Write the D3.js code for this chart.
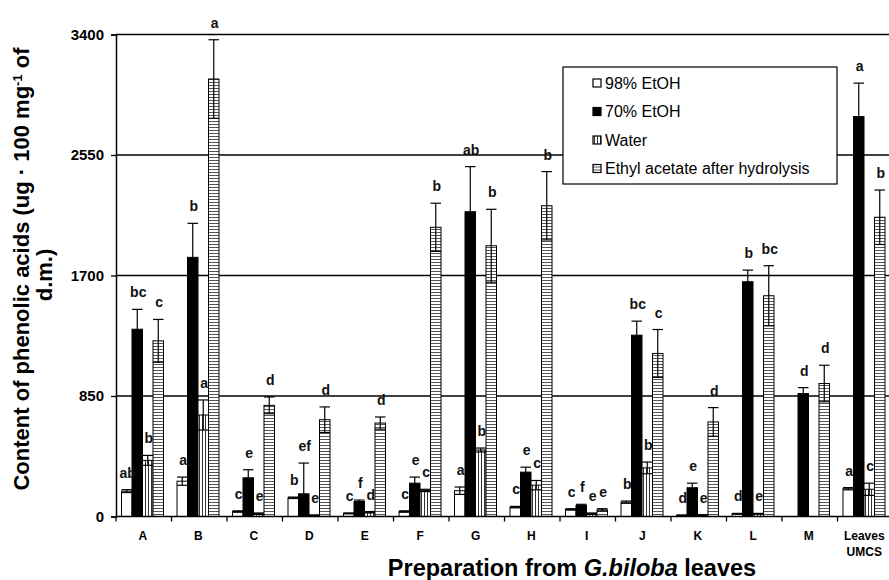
<!DOCTYPE html>
<html>
<head>
<meta charset="utf-8">
<script src="https://d3js.org/d3.v7.min.js"></script>
<style>
  body { margin: 0; background: #fff; }
  svg { display: block; font-family: "Liberation Sans", Arial, sans-serif; }
</style>
</head>
<body>
<svg id="chart"></svg>
<script>

/*Chart data*/
var categories = ["A", "B", "C", "D", "E", "F", "G", "H", "I", "J", "K", "L", "M", "Leaves UMCS"];
var seriesNames = ["98% EtOH", "70% EtOH", "Water", "Ethyl acetate after hydrolysis"];

var etoh98 = [179, 249, 35, 132, 22, 35, 182, 66, 50, 101, 8, 19, 0, 196];
var etoh70 = [1321, 1828, 273, 160, 106, 235, 2150, 313, 78, 1279, 203, 1656, 867, 2821];
var water = [396, 716, 20, 8, 30, 184, 469, 221, 20, 343, 10, 19, 0, 192];
var ethylAcetate = [1239, 3086, 784, 683, 659, 2040, 1910, 2192, 47, 1150, 667, 1557, 938, 2111];

var err98 = [10, 29, 5, 5, 3, 5, 26, 5, 5, 8, 3, 3, 0, 8];
var err70 = [140, 240, 57, 217, 10, 43, 318, 35, 8, 99, 32, 82, 42, 236];
var errWater = [35, 106, 5, 3, 5, 8, 14, 33, 5, 41, 3, 3, 0, 43];
var errEthyl = [151, 277, 59, 90, 43, 170, 257, 241, 8, 169, 101, 212, 129, 192];

var letters98 = ["ab", "a", "c", "b", "c", "c", "a", "c", "c", "b", "d", "d", "", "a"];
var letters70 = ["bc", "b", "e", "ef", "f", "e", "ab", "e", "f", "bc", "e", "b", "d", "a"];
var lettersWater = ["b", "a", "e", "e", "d", "c", "b", "c", "e", "b", "e", "e", "", "c"];
var lettersEthyl = ["c", "a", "d", "d", "d", "b", "b", "b", "e", "c", "d", "bc", "d", "b"];

var yTicks = [0, 850, 1700, 2550, 3400];

var valueLists = [etoh98, etoh70, water, ethylAcetate];
var errorLists = [err98, err70, errWater, errEthyl];
var letterLists = [letters98, letters70, lettersWater, lettersEthyl];

/*Layout*/
var width = 889, height = 580;
var plotLeft = 116, plotRight = 893, plotTop = 34.5, plotBottom = 516.5;

var svg = d3.select("#chart").attr("width", width).attr("height", height);

//Patterns for the hatched bars
var defs = svg.append("defs");
var vert = defs.append("pattern").attr("id", "vert")
    .attr("patternUnits", "userSpaceOnUse").attr("width", 3).attr("height", 3);
vert.append("rect").attr("width", 3).attr("height", 3).attr("fill", "#fff");
vert.append("line").attr("x1", 1.5).attr("x2", 1.5).attr("y1", 0).attr("y2", 3)
    .attr("stroke", "#333").attr("stroke-width", 1);
var horiz = defs.append("pattern").attr("id", "horiz")
    .attr("patternUnits", "userSpaceOnUse").attr("width", 3).attr("height", 3);
horiz.append("rect").attr("width", 3).attr("height", 3).attr("fill", "#fff");
horiz.append("line").attr("x1", 0).attr("x2", 3).attr("y1", 1.5).attr("y2", 1.5)
    .attr("stroke", "#555").attr("stroke-width", 1);

var fills = ["#fff", "#000", "url(#vert)", "url(#horiz)"];

/*Scales*/
var y = d3.scaleLinear().domain([0, 3400]).range([plotBottom, plotTop]);
var x0 = d3.scaleBand().domain(categories).range([plotLeft, plotRight]);
var x1 = d3.scaleBand().domain(seriesNames).range([5.5, 47.5]);

//Gridlines
svg.append("g").selectAll("line")
    .data(yTicks.filter(function(d){ return d > 0; }))
    .enter().append("line")
    .attr("x1", plotLeft).attr("x2", width)
    .attr("y1", function(d){ return y(d); }).attr("y2", function(d){ return y(d); })
    .attr("stroke", "#000").attr("stroke-width", 1.3);

//Flatten data for bars
var bars = [];
categories.forEach(function(c, i){
    seriesNames.forEach(function(s, j){
        bars.push({cat: c, series: s, idx: j, value: valueLists[j][i],
                   err: errorLists[j][i], letter: letterLists[j][i]});
    });
});

var barG = svg.append("g");
barG.selectAll("rect")
    .data(bars.filter(function(d){ return d.value > 0; }))
    .enter().append("rect")
    .attr("x", function(d){ return x0(d.cat) + x1(d.series); })
    .attr("y", function(d){ return y(d.value); })
    .attr("width", x1.bandwidth())
    .attr("height", function(d){ return plotBottom - y(d.value); })
    .attr("fill", function(d){ return fills[d.idx]; })
    .attr("stroke", "#000").attr("stroke-width", 1);

//Error bars (caps as wide as the bar)
var errG = svg.append("g").attr("stroke", "#000").attr("stroke-width", 1.2);
bars.filter(function(d){ return d.value > 0 && d.err > 0; }).forEach(function(d){
    var left = x0(d.cat) + x1(d.series), w = x1.bandwidth(), cx = left + w / 2;
    var top = y(d.value + d.err), bot = y(Math.max(0, d.value - d.err));
    errG.append("line").attr("x1", cx).attr("x2", cx).attr("y1", top).attr("y2", bot);
    errG.append("line").attr("x1", left).attr("x2", left + w).attr("y1", top).attr("y2", top);
    if (d.idx !== 1) {
        errG.append("line").attr("x1", left).attr("x2", left + w).attr("y1", bot).attr("y2", bot);
    }
});

//Significance letters
svg.append("g").selectAll("text")
    .data(bars.filter(function(d){ return d.letter; }))
    .enter().append("text")
    .attr("x", function(d){ return x0(d.cat) + x1(d.series) + x1.bandwidth() / 2 + 1; })
    .attr("y", function(d){ return y(d.value + d.err) - 12; })
    .attr("text-anchor", "middle")
    .attr("font-size", 14).attr("font-weight", "bold").attr("fill", "#111")
    .text(function(d){ return d.letter; });

//Y axis
var yAxis = svg.append("g").attr("transform", "translate(" + plotLeft + ",0)")
    .call(d3.axisLeft(y).tickValues(yTicks).tickSize(5).tickPadding(7).tickFormat(d3.format("d")));
yAxis.select(".domain").attr("stroke-width", 1.5);
yAxis.selectAll(".tick line").attr("stroke-width", 1.3);
yAxis.selectAll("text").attr("font-size", 15).attr("font-weight", "bold").attr("fill", "#000")
    .attr("font-family", "Liberation Sans, Arial, sans-serif");

//X axis with ticks between groups
var xAxis = svg.append("g").attr("transform", "translate(0," + plotBottom + ")");
xAxis.append("line").attr("x1", plotLeft).attr("x2", width).attr("y1", 0).attr("y2", 0)
    .attr("stroke", "#000").attr("stroke-width", 1.5);
xAxis.selectAll(".sep").data(categories).enter().append("line")
    .attr("class", "sep")
    .attr("x1", function(d){ return x0(d); }).attr("x2", function(d){ return x0(d); })
    .attr("y1", 0).attr("y2", 5).attr("stroke", "#000").attr("stroke-width", 1.3);
var catLabels = xAxis.selectAll(".cat").data(categories).enter().append("text")
    .attr("class", "cat")
    .attr("text-anchor", "middle")
    .attr("font-size", 12).attr("font-weight", "bold");
catLabels.each(function(d){
    var t = d3.select(this);
    d.split(" ").forEach(function(part, k){
        t.append("tspan").attr("x", x0(d) + x0.bandwidth() / 2 - 1)
            .attr("y", 23 + k * 16).text(part);
    });
});

//Axis titles
var xTitle = svg.append("text").attr("x", 572).attr("y", 576)
    .attr("text-anchor", "middle").attr("font-size", 23.5).attr("font-weight", "bold");
xTitle.append("tspan").text("Preparation from ");
xTitle.append("tspan").attr("font-style", "italic").text("G.biloba");
xTitle.append("tspan").text(" leaves");

var yTitle = svg.append("text").attr("transform", "translate(29,269) rotate(-90)")
    .attr("text-anchor", "middle").attr("font-size", 22).attr("font-weight", "bold");
yTitle.append("tspan").attr("x", 0).attr("y", 0).text("Content of phenolic acids (ug \u00b7 100 mg");
yTitle.append("tspan").attr("font-size", 13).attr("dy", -7).text("-1");
yTitle.append("tspan").attr("dy", 7).text(" of");
yTitle.append("tspan").attr("x", -6).attr("y", 23).text("d.m.)");

//Legend
var legend = svg.append("g").attr("transform", "translate(563,67)");
legend.append("rect").attr("width", 274).attr("height", 117)
    .attr("fill", "#fff").attr("stroke", "#000").attr("stroke-width", 1.2);
var items = legend.selectAll(".item").data(seriesNames).enter().append("g")
    .attr("transform", function(d, i){ return "translate(30," + (16 + i * 28.5) + ")"; });
items.append("rect").attr("x", 0).attr("y", -4).attr("width", 8).attr("height", 8)
    .attr("fill", function(d, i){ return fills[i]; })
    .attr("stroke", "#000").attr("stroke-width", 1.2);
items.append("text").attr("x", 12).attr("y", 5.5)
    .attr("font-size", 16).text(function(d){ return d; });

</script>
</body>
</html>
